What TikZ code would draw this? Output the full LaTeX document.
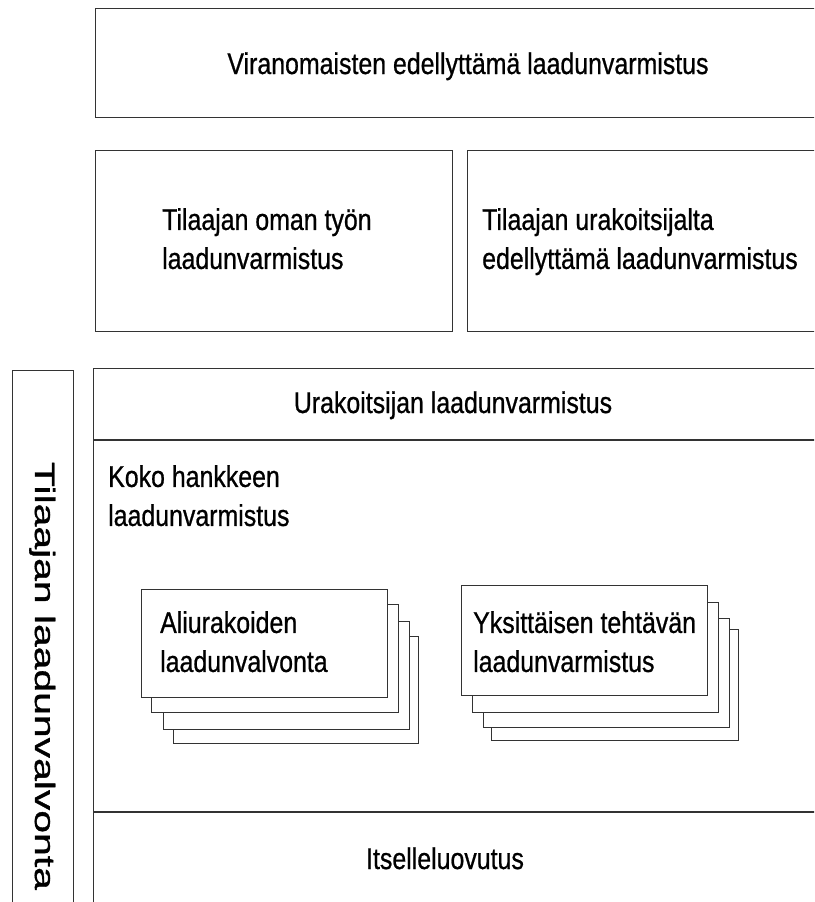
\documentclass[tikz,border=0pt]{standalone}
\usepackage{fontspec}
\setmainfont{Liberation Sans}[FakeStretch=0.83,FakeBold=0.7]
\newfontfamily\vfont{Liberation Sans}[FakeStretch=1.46,FakeBold=1.2]
\begin{document}
\begin{tikzpicture}[x=1pt,y=-1pt,
  box/.style={draw=black!80, fill=white, line width=1.2pt, inner sep=0pt, anchor=north west},
  lbl/.style={font=\fontsize{30}{39}\selectfont, inner sep=0pt, align=left, text=black},
  divline/.style={draw=black!80, line width=1.2pt}]
\useasboundingbox (0,0) rectangle (814,902);
\clip (0,0) rectangle (814,902);
\fill[white] (0,0) rectangle (814,902);
% big boxes
\node[box, minimum width=745pt, minimum height=109pt] (top) at (95,8) {};
\node[box, minimum width=357pt, minimum height=181pt] (tl) at (95,150) {};
\node[box, minimum width=370pt, minimum height=181pt] (tr) at (467,150) {};
\node[box, minimum width=61pt, minimum height=545pt] (side) at (12,370) {};
\node[box, minimum width=745pt, minimum height=545pt] (main) at (93,368) {};
\coordinate (d1a) at (93,440);
\coordinate (d1b) at (840,440);
\coordinate (d2a) at (93,812);
\coordinate (d2b) at (840,812);
\draw[divline] (d1a) -- (d1b);
\draw[divline] (d2a) -- (d2b);
% left stack
\node[box, minimum width=245pt, minimum height=107pt] (ls4) at (173,636) {};
\node[box, minimum width=246pt, minimum height=108pt] (ls3) at (163,621) {};
\node[box, minimum width=247pt, minimum height=108pt] (ls2) at (151,604) {};
\node[box, minimum width=246pt, minimum height=108pt] (ls1) at (141,589) {};
% right stack
\node[box, minimum width=247pt, minimum height=111pt] (rs4) at (491,629) {};
\node[box, minimum width=246pt, minimum height=109pt] (rs3) at (483,618) {};
\node[box, minimum width=246pt, minimum height=110pt] (rs2) at (472,602) {};
\node[box, minimum width=246pt, minimum height=110pt] (rs1) at (461,585) {};
% texts
\node[lbl, anchor=base] (t1) at (468,74) {Viranomaisten edellyttämä laadunvarmistus};
\node[lbl, anchor=north west] (t2) at (162,208) {Tilaajan oman työn\\laadunvarmistus};
\node[lbl, anchor=north west] (t3) at (482,208) {Tilaajan urakoitsijalta\\edellyttämä laadunvarmistus};
\node[lbl, anchor=base] (t4) at (453,413) {Urakoitsijan laadunvarmistus};
\node[lbl, anchor=north west] (t5) at (108,465) {Koko hankkeen\\laadunvarmistus};
\node[lbl, anchor=north west] (t6) at (160,611) {Aliurakoiden\\laadunvalvonta};
\node[lbl, anchor=north west] (t7) at (473,611) {Yksittäisen tehtävän\\laadunvarmistus};
\node[lbl, anchor=base] (t8) at (445,869) {Itselleluovutus};
\node[lbl, rotate=-90, anchor=base, font=\vfont\fontsize{28}{30}\selectfont] (t9) at (35,676) {Tilaajan laadunvalvonta};
\end{tikzpicture}
\end{document}
